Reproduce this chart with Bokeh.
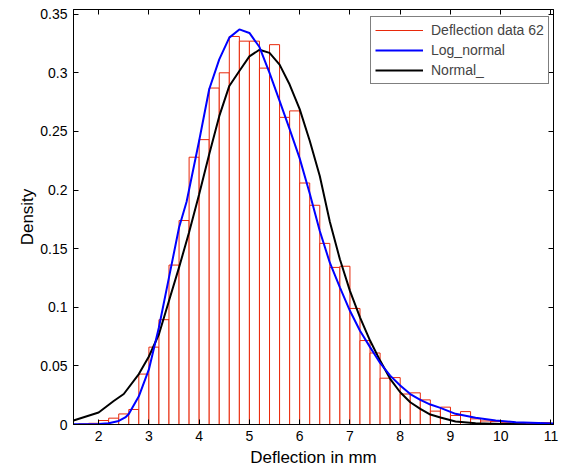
from bokeh.plotting import figure
from bokeh.models import LinearAxis, FixedTicker, Range1d, Legend, LegendItem, ColumnDataSource
from bokeh.embed import file_html
from bokeh.resources import INLINE

# ---- data ----
bin_left = [1.6, 1.8, 2.0, 2.2, 2.4, 2.6, 2.8, 3.0, 3.2, 3.4, 3.6, 3.8, 4.0, 4.2, 4.4, 4.6,
            4.8, 5.0, 5.2, 5.4, 5.6, 5.8, 6.0, 6.2, 6.4, 6.6, 6.8, 7.0, 7.2, 7.4, 7.6, 7.8,
            8.0, 8.2, 8.4, 8.6, 8.8, 9.0, 9.2, 9.4, 9.6, 9.8, 10.0, 10.2, 10.4, 10.6, 10.8]
bin_width = 0.2
density = [0.0005, 0.001, 0.0034, 0.0054, 0.009, 0.0128, 0.043, 0.066, 0.0894, 0.136, 0.174,
           0.228, 0.243, 0.287, 0.300, 0.331, 0.327, 0.327, 0.304, 0.324, 0.262, 0.2675,
           0.206, 0.187, 0.1545, 0.134, 0.135, 0.099, 0.0716, 0.061, 0.0395, 0.040, 0.026,
           0.027, 0.021, 0.0114, 0.0148, 0.0077, 0.011, 0.0048, 0.003, 0.0025, 0.0015,
           0.0012, 0.001, 0.0008, 0.0016]

normal_x = [1.5, 2.0, 2.3, 2.5, 2.8, 3.0, 3.2, 3.4, 3.6, 3.8, 4.0, 4.2, 4.4, 4.6, 4.8, 5.0,
            5.2, 5.4, 5.6, 5.8, 6.0, 6.2, 6.4, 6.6, 6.8, 7.0, 7.2, 7.4, 7.6, 7.8, 8.0, 8.2,
            8.4, 8.6, 8.8, 9.1, 9.5, 10.0, 10.5, 11.05]
normal_y = [0.0034, 0.0102, 0.020, 0.026, 0.043, 0.058, 0.077, 0.1056, 0.134, 0.164, 0.1965,
            0.2306, 0.263, 0.2888, 0.3015, 0.314, 0.3197, 0.317, 0.307, 0.290, 0.269, 0.242,
            0.212, 0.173, 0.141, 0.114, 0.0914, 0.0716, 0.0545, 0.039, 0.0275, 0.019, 0.0134,
            0.0085, 0.0060, 0.0026, 0.001, 0.0004, 0.0002, 0.0001]

lognormal_x = [1.5, 2.0, 2.2, 2.4, 2.53, 2.6, 2.8, 3.0, 3.2, 3.4, 3.6, 3.75, 4.0, 4.2, 4.4,
               4.6, 4.8, 5.0, 5.2, 5.4, 5.6, 5.8, 6.0, 6.2, 6.4, 6.6, 6.8, 7.0, 7.2, 7.4,
               7.6, 7.8, 8.0, 8.2, 8.4, 8.6, 8.8, 9.1, 9.5, 9.9, 10.3, 11.05]
lognormal_y = [0.0003, 0.0005, 0.001, 0.003, 0.006, 0.009, 0.024, 0.047, 0.083, 0.1255, 0.168,
               0.19, 0.242, 0.286, 0.3115, 0.330, 0.337, 0.334, 0.322, 0.300, 0.276, 0.252,
               0.227, 0.197, 0.165, 0.138, 0.117, 0.097, 0.080, 0.066, 0.0525, 0.0417, 0.0332,
               0.026, 0.021, 0.017, 0.0142, 0.0091, 0.0057, 0.0034, 0.002, 0.0008]

x_ticks = [2, 3, 4, 5, 6, 7, 8, 9, 10, 11]
y_ticks = [0, 0.05, 0.1, 0.15, 0.2, 0.25, 0.3, 0.35]
y_tick_labels = ["0", "0.05", "0.1", "0.15", "0.2", "0.25", "0.3", "0.35"]
legend_labels = ["Deflection data 62", "Log_normal", "Normal_"]

RED = "#e8280a"
FONT = "Liberation Sans"

p = figure(frame_width=480, frame_height=415, output_backend="svg", toolbar_location=None,
           x_range=Range1d(1.5, 11.05), y_range=Range1d(0, 0.354),
           min_border_left=73, min_border_right=8, min_border_top=9, min_border_bottom=42,
           x_axis_label="Deflection in mm", y_axis_label="Density")
p.background_fill_color = "white"
p.border_fill_color = "white"
p.outline_line_color = "black"
p.xgrid.visible = False
p.ygrid.visible = False

src = ColumnDataSource(dict(left=bin_left,
                            right=[b + bin_width for b in bin_left],
                            top=density,
                            bottom=[0] * len(bin_left)))
p.quad(left="left", right="right", top="top", bottom="bottom", source=src,
       fill_color="white", line_color=RED, line_width=1)

r_norm = p.line(normal_x, normal_y, line_color="black", line_width=2)
r_logn = p.line(lognormal_x, lognormal_y, line_color="#0000ff", line_width=2)
# single-point line: draws nothing in the plot, only gives the legend its red line
r_hist_leg = p.line(bin_left[:1], density[:1], line_color=RED, line_width=1)

for ax in (p.xaxis[0], p.yaxis[0]):
    ax.major_tick_in = 5
    ax.major_tick_out = 0
    ax.minor_tick_line_color = None
    ax.major_label_text_font = FONT
    ax.major_label_text_font_size = "14px"
    ax.major_label_text_color = "black"
    ax.axis_label_text_font = FONT
    ax.axis_label_text_font_size = "17px"
    ax.axis_label_text_font_style = "normal"
    ax.axis_label_text_color = "black"
    ax.axis_line_color = "black"

p.xaxis[0].ticker = FixedTicker(ticks=x_ticks)
p.yaxis[0].ticker = FixedTicker(ticks=y_ticks)
p.yaxis[0].major_label_overrides = {t: s for t, s in zip(y_ticks, y_tick_labels)}
p.xaxis[0].major_label_standoff = 6
p.xaxis[0].axis_label_standoff = 4
p.yaxis[0].major_label_standoff = 6
p.yaxis[0].axis_label_standoff = 0

top_ax = LinearAxis(ticker=FixedTicker(ticks=x_ticks), major_tick_in=5, major_tick_out=0,
                    minor_tick_line_color=None, major_label_text_font_size="1px",
                    major_label_text_color=None, major_label_text_alpha=0,
                    major_label_standoff=0)
right_ax = LinearAxis(ticker=FixedTicker(ticks=y_ticks), major_tick_in=5, major_tick_out=0,
                      minor_tick_line_color=None, major_label_text_font_size="1px",
                      major_label_text_color=None, major_label_text_alpha=0,
                      major_label_standoff=0)
p.add_layout(top_ax, "above")
p.add_layout(right_ax, "right")

legend = Legend(items=[LegendItem(label=legend_labels[0], renderers=[r_hist_leg]),
                       LegendItem(label=legend_labels[1], renderers=[r_logn]),
                       LegendItem(label=legend_labels[2], renderers=[r_norm])],
                location=(297, 340), margin=0, padding=4, spacing=2,
                glyph_width=48, glyph_height=18, label_height=18, label_standoff=8,
                label_text_font=FONT, label_text_font_size="14px",
                border_line_color="black", border_line_width=1,
                background_fill_alpha=1.0)
p.add_layout(legend, "center")

open("out.html", "w").write(file_html(p, INLINE))
